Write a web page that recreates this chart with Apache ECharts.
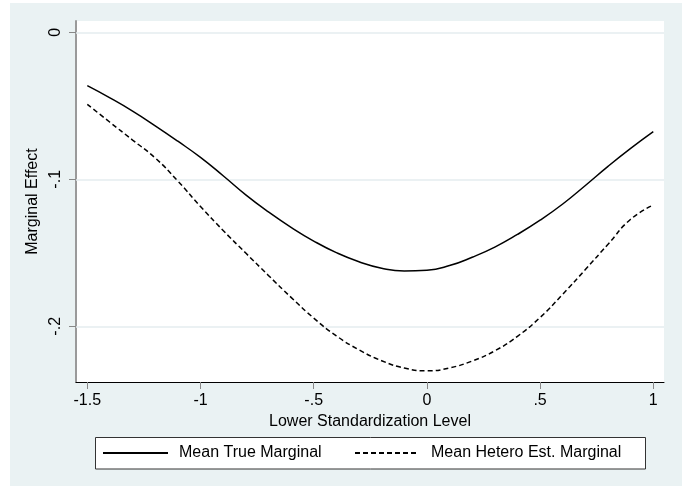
<!DOCTYPE html>
<html>
<head>
<meta charset="utf-8">
<script src="https://cdn.jsdelivr.net/npm/echarts@6/dist/echarts.min.js"></script>
<style>
html,body{margin:0;padding:0;background:#fff;}
#chart{width:683px;height:486px;}
</style>
</head>
<body>
<div id="chart"></div>
<script>
// ---- data ----
var xValues = [-1.5,-1.4,-1.3,-1.2,-1.1,-1.0,-0.9,-0.8,-0.7,-0.6,-0.5,-0.4,-0.3,-0.2,-0.1,0.0,0.1,0.2,0.3,0.4,0.5,0.6,0.7,0.8,0.9,1.0];
var trueMarginal = [-0.0363,-0.0446,-0.0536,-0.0636,-0.0741,-0.0851,-0.0976,-0.1106,-0.1222,-0.1327,-0.1420,-0.1499,-0.1561,-0.1605,-0.1624,-0.1619,-0.1587,-0.1530,-0.1461,-0.1375,-0.1278,-0.1168,-0.1042,-0.0912,-0.0790,-0.0676];
var heteroMarginal = [-0.0490,-0.0612,-0.0733,-0.0855,-0.1012,-0.1185,-0.1348,-0.1502,-0.1654,-0.1803,-0.1944,-0.2065,-0.2160,-0.2234,-0.2284,-0.2303,-0.2283,-0.2236,-0.2167,-0.2068,-0.1940,-0.1782,-0.1614,-0.1442,-0.1272,-0.1175];
var xTicks = [-1.5,-1,-0.5,0,0.5,1];
var yTicks = [0,-0.1,-0.2];
var seriesNames = ['Mean True Marginal','Mean Hetero Est. Marginal'];
var xAxisTitle = 'Lower Standardization Level';
var yAxisTitle = 'Marginal Effect';

var FONT = '"Liberation Sans", Arial, sans-serif';
var BG = '#eaf2f3';
function fmt(v){ return String(+v.toFixed(4)).replace(/^(-?)0\./,'$1.'); }
function pairs(xs, ys){ return xs.map(function(x,i){ return [x, ys[i]]; }); }

var chart = echarts.init(document.getElementById('chart'), null, {renderer:'canvas'});
chart.setOption({
  backgroundColor: '#fff',
  animation: false,
  textStyle: {fontFamily: FONT},
  graphic: [
    {type:'rect', z:-10, silent:true, shape:{x:10,y:3,width:672,height:483}, style:{fill:BG}},
    {type:'rect', z:-5, silent:true, shape:{x:95.5,y:437.5,width:550,height:31.5}, style:{fill:'#fff', stroke:'#333', lineWidth:1}}
  ],
  grid: {left:76, right:19, top:21, bottom:104, show:true, backgroundColor:'#fff', borderWidth:0},
  xAxis: {
    type:'value', min:-1.5499, max:1.0473,
    name: xAxisTitle, nameLocation:'middle', nameGap:29,
    nameTextStyle:{fontSize:16, color:'#000', fontFamily:FONT},
    axisLine:{show:true, onZero:false, lineStyle:{color:'#000', width:1}},
    axisTick:{show:true, length:7, customValues:xTicks, lineStyle:{color:'#888', width:1}},
    axisLabel:{customValues:xTicks, formatter:fmt, fontSize:16, color:'#000', margin:11, fontFamily:FONT},
    splitLine:{show:false}
  },
  yAxis: {
    type:'value', min:-0.2379, max:0.0077,
    name: yAxisTitle, nameLocation:'middle', nameGap:30, nameRotate:90,
    nameTextStyle:{fontSize:16, color:'#000', fontFamily:FONT},
    axisLine:{show:true, onZero:false, lineStyle:{color:'#9a9a9a', width:2}},
    axisTick:{show:true, length:7, customValues:yTicks, lineStyle:{color:'#888', width:1}},
    axisLabel:{customValues:yTicks, formatter:fmt, rotate:90, fontSize:16, color:'#000', margin:12, fontFamily:FONT},
    splitLine:{show:false}
  },
  legend: [
    {data:[seriesNames[0]], left:102, top:445, padding:0, itemWidth:65, itemHeight:16,
     itemStyle:{opacity:0},
     textStyle:{fontSize:16, color:'#000', fontFamily:FONT, padding:[0,0,0,6]}},
    {data:[seriesNames[1]], left:354, top:445, padding:0, itemWidth:61, itemHeight:16,
     itemStyle:{opacity:0},
     textStyle:{fontSize:16, color:'#000', fontFamily:FONT, padding:[0,0,0,10]}}
  ],
  series: [
    {
      name: seriesNames[0], type:'line', data: pairs(xValues, trueMarginal),
      symbol:'none', smooth:true, z:3,
      lineStyle:{color:'#000', width:1.5, type:'solid'},
      itemStyle:{color:'#000'},
      markLine:{
        silent:true, symbol:['none','none'], z:1,
        label:{show:false},
        lineStyle:{color:'#e4edef', width:1.5, type:'solid'},
        data: yTicks.map(function(v){ return {yAxis:v}; })
      }
    },
    {
      name: seriesNames[1], type:'line', data: pairs(xValues, heteroMarginal),
      symbol:'none', smooth:true, z:3,
      lineStyle:{color:'#000', width:1.5, type:[5,3]},
      itemStyle:{color:'#000'}
    }
  ]
});
</script>
</body>
</html>
